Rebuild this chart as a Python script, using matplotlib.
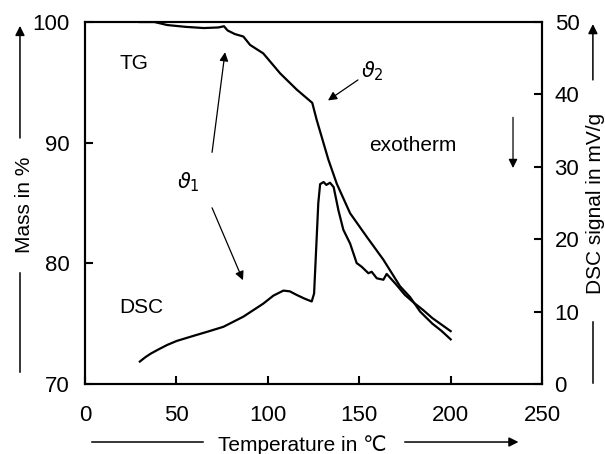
import matplotlib
matplotlib.use("Agg")
import matplotlib.pyplot as plt

# TG curve (mass in %) ...
tg_temp = [30, 38, 45, 55, 65, 73, 76, 78, 82, 86.6, 90.3, 97.5, 106.7, 115.8,
           124.3, 126.7, 130, 133.1, 137.7, 145, 154.1, 163.2, 172.3, 177.8,
           183.3, 190, 195, 200]
tg_mass = [100, 100, 99.75, 99.6, 99.5, 99.55, 99.65, 99.3, 99.0, 98.8, 98.1,
           97.4, 95.75, 94.4, 93.3, 91.9, 90.2, 88.6, 86.6, 84.15, 82.2, 80.3,
           78.1, 77.2, 76.0, 75.0, 74.4, 73.7]

# DSC curve (mV/g) ...
dsc_temp = [30, 33, 36, 40, 45, 50.2, 60, 68, 75.7, 86.6, 97.5, 103, 108.5, 112,
            115.8, 120, 124, 125.3, 126.5, 127.6, 128.6, 130.5, 132, 134, 136,
            138.6, 141.3, 145, 148.6, 151.3, 155, 156.8, 159.6, 163.2, 165,
            170, 175, 180, 185, 190, 195, 200]
dsc_val = [3.1, 3.7, 4.2, 4.75, 5.4, 5.95, 6.7, 7.3, 7.9, 9.3, 11.1, 12.2, 12.9,
           12.8, 12.3, 11.8, 11.4, 12.5, 19.0, 25.0, 27.6, 27.9, 27.5, 27.8,
           27.2, 24.0, 21.3, 19.4, 16.7, 16.2, 15.3, 15.5, 14.6, 14.4, 15.2,
           13.8, 12.3, 11.2, 10.2, 9.1, 8.2, 7.3]

x_ticks = [0, 50, 100, 150, 200, 250]
mass_ticks = [70, 80, 90, 100]
dsc_ticks = [0, 10, 20, 30, 40, 50]

plt.rcParams['font.family'] = ['Liberation Sans', 'DejaVu Sans']
plt.rcParams['font.size'] = 15

fig = plt.figure(figsize=(6.05, 4.54), dpi=100)
ax = fig.add_axes([0.1405, 0.1542, 0.7555, 0.7973])
ax2 = ax.twinx()

ax.plot(tg_temp, tg_mass, color='black', lw=1.6)
ax2.plot(dsc_temp, dsc_val, color='black', lw=1.6)

ax.set_xlim(0, 250)
ax.set_ylim(70, 100)
ax2.set_ylim(0, 50)
ax.set_xticks(x_ticks)
ax.set_yticks(mass_ticks)
ax2.set_yticks(dsc_ticks)

for a in (ax, ax2):
    for s in a.spines.values():
        s.set_linewidth(1.5)
ax.tick_params(axis='x', direction='in', length=6, width=1.5, pad=15, labelsize=16)
ax.tick_params(axis='y', direction='in', length=6, width=1.5, pad=11, labelsize=16)
ax2.tick_params(axis='y', direction='in', length=6, width=1.5, pad=9, labelsize=16)

# text in the plot ...
ax.text(19, 96.6, "TG", va='center', ha='left')
ax.text(19, 76.3, "DSC", va='center', ha='left')
ax.text(179.4, 89.8, "exotherm", va='center', ha='center')
ax.text(56.3, 86.7, r"$\vartheta_1$", va='center', ha='center')
ax.text(157, 95.9, r"$\vartheta_2$", va='center', ha='center')

arr = dict(arrowstyle='-|>', color='black', lw=0.9, mutation_scale=13,
           shrinkA=0, shrinkB=0)
ax.annotate("", xy=(76.6, 97.5), xytext=(69.5, 89.2), arrowprops=arr)
ax.annotate("", xy=(86.4, 78.6), xytext=(69.5, 84.6), arrowprops=arr)
ax.annotate("", xy=(132.9, 93.5), xytext=(149.3, 95.2), arrowprops=arr)
ax.annotate("", xy=(234.1, 87.9), xytext=(234.1, 92.1), arrowprops=arr)

# axis labels with their arrows ...
fig.text(0.041, 0.548, "Mass in %", rotation=90, ha='center', va='center')
fig.text(0.984, 0.553, "DSC signal in mV/g", rotation=90, ha='center', va='center')
fig.text(0.499, 0.02, "Temperature in \u2103", ha='center', va='center')

farr = dict(arrowstyle='-|>', color='black', lw=1.1, mutation_scale=14,
            shrinkA=0, shrinkB=0)
ax.annotate("", xy=(0.033, 0.943), xytext=(0.033, 0.696),
            xycoords='figure fraction', arrowprops=farr)
fig.add_artist(plt.Line2D([0.033, 0.033], [0.181, 0.399], color='black', lw=1.1))
ax.annotate("", xy=(0.980, 0.947), xytext=(0.980, 0.824),
            xycoords='figure fraction', arrowprops=farr)
fig.add_artist(plt.Line2D([0.980, 0.980], [0.156, 0.291], color='black', lw=1.1))
ax.annotate("", xy=(0.857, 0.0264), xytext=(0.669, 0.0264),
            xycoords='figure fraction', arrowprops=farr)
fig.add_artist(plt.Line2D([0.152, 0.336], [0.0264, 0.0264], color='black', lw=1.1))

fig.savefig("out.png", dpi=100)
